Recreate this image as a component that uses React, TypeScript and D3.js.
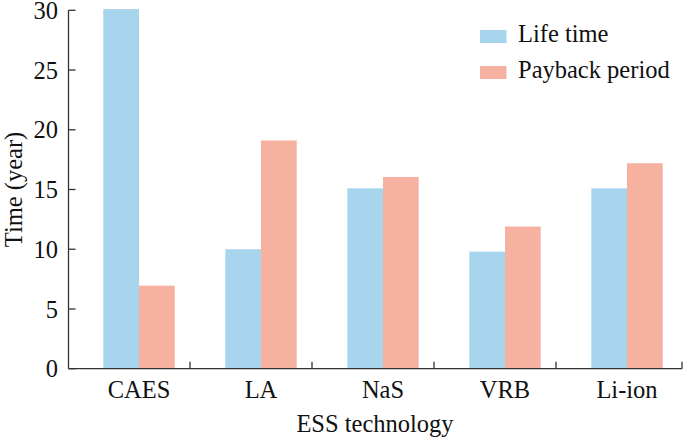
import React from "react";
import * as d3 from "d3";

const categories = ["CAES", "LA", "NaS", "VRB", "Li-ion"];
const lifeTime = [30.1, 10.0, 15.1, 9.8, 15.1];
const payback = [6.95, 19.1, 16.05, 11.9, 17.2];
const yTicks = [0, 5, 10, 15, 20, 25, 30];
const seriesNames = ["Life time", "Payback period"];
const colors = ["#a8d5ee", "#f6b1a1"];

export default function App() {
  const W = 685, H = 438;
  const axisLeft = 68.5, axisRight = 682, y0 = 368.7, yTop = 10.3;
  const y = d3.scaleLinear().domain([0, 30]).range([y0, yTop]);
  const x = d3.scaleBand().domain(categories).range([78, 688]).paddingInner(0).paddingOuter(0);
  const step = x.step();
  const barW = 35.7;
  const tickXs = categories.slice(1).map((c) => (x(c) as number) - 10);
  const font = "'Liberation Serif', 'Times New Roman', serif";
  const series = [lifeTime, payback];
  const fs = 24.5;
  return (
    <svg width={W} height={H} style={{ position: "absolute", left: 0, top: 0 }} fontFamily={font}>
      {series.map((vals, s) =>
        categories.map((c, i) => {
          const cx = (x(c) as number) + step / 2;
          const xs = cx - barW + s * barW;
          return (
            <rect key={`${s}-${i}`} x={xs} y={y(vals[i])} width={barW} height={y0 - y(vals[i])} fill={colors[s]} />
          );
        })
      )}
      <line x1={axisLeft} x2={axisLeft} y1={yTop} y2={y0} stroke="#333" strokeWidth={1.3} />
      <line x1={axisLeft} x2={axisRight} y1={y0} y2={y0} stroke="#333" strokeWidth={1.3} />
      {yTicks.map((t) => (
        <g key={t}>
          <line x1={axisLeft} x2={axisLeft + 7} y1={y(t)} y2={y(t)} stroke="#333" strokeWidth={1.3} />
          <text x={58} y={y(t)} dy="0.35em" textAnchor="end" fontSize={fs} fill="#111">{t}</text>
        </g>
      ))}
      {[...tickXs, axisRight].map((tx, i) => (
        <line key={i} x1={tx} x2={tx} y1={y0} y2={y0 - 7} stroke="#333" strokeWidth={1.3} />
      ))}
      {categories.map((c) => (
        <text key={c} x={(x(c) as number) + step / 2} y={398} textAnchor="middle" fontSize={fs} fill="#111">{c}</text>
      ))}
      <text x={375} y={432} textAnchor="middle" fontSize={fs} fill="#111">ESS technology</text>
      <text transform={`translate(22, ${(yTop + y0) / 2}) rotate(-90)`} textAnchor="middle" fontSize={fs} fill="#111">Time (year)</text>
      {seriesNames.map((n, i) => (
        <g key={n}>
          <rect x={480} y={30 + i * 36} width={26.5} height={13} fill={colors[i]} />
          <text x={518} y={42 + i * 36} fontSize={fs} fill="#111">{n}</text>
        </g>
      ))}
    </svg>
  );
}
